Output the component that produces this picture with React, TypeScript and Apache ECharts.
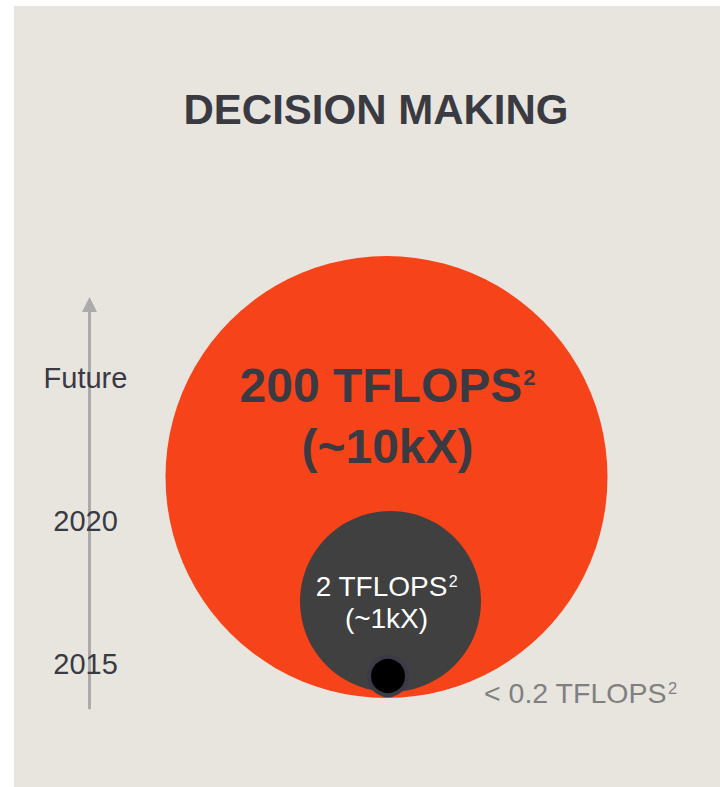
import React, { useEffect, useRef } from "react";
import * as echarts from "echarts";

// ---- data ----
const timelineTicks = [2015, 2020, 2025];
const timelineLabels = ["2015", "2020", "Future"];

const tierNames = ["200 TFLOPS", "2 TFLOPS", "< 0.2 TFLOPS"];
const tierTflops = [200, 2, 0.2];
const tierSpeedup = ["~10kX", "~1kX", ""];

const TEXT = "#3A3A42";
const FONT = "Liberation Sans, Arial, sans-serif";

// ---- styles per tier (sizes, offsets, colours) ----
const tierStyles = [
  {
    size: 442,
    offset: [0, -221],
    itemStyle: { color: "#F74319", opacity: 1 },
    label: {
      show: true,
      position: "inside",
      offset: [1, -61],
      rich: {
        m: { fontSize: 48, fontWeight: "bold", color: TEXT, lineHeight: 61, fontFamily: FONT },
        s: { fontSize: 22, fontWeight: "bold", color: TEXT, verticalAlign: "top", padding: [11, 0, 0, 1], fontFamily: FONT },
      },
    },
  },
  {
    size: 181,
    offset: [4, -96.5],
    itemStyle: { color: "#404040", opacity: 1 },
    label: {
      show: true,
      position: "inside",
      offset: [-4, 1],
      rich: {
        m: { fontSize: 28, color: "#FFFFFF", lineHeight: 32, fontFamily: FONT },
        s: { fontSize: 16, color: "#FFFFFF", verticalAlign: "top", padding: [3, 0, 0, 1], fontFamily: FONT },
      },
    },
  },
  {
    size: 38,
    offset: [1.5, -22],
    itemStyle: { color: "#000000", borderColor: "#3B3B47", borderWidth: 4, opacity: 1 },
    label: {
      show: true,
      position: "right",
      distance: 75,
      offset: [0, 16.5],
      rich: {
        m: { fontSize: 28.5, color: "#808080", lineHeight: 32, fontFamily: FONT },
        s: { fontSize: 16.5, color: "#808080", verticalAlign: "top", padding: [3, 0, 0, 1], fontFamily: FONT },
      },
    },
  },
];

export default function App() {
  const ref = useRef<HTMLDivElement>(null);

  useEffect(() => {
    if (!ref.current) return;
    const chart = echarts.init(ref.current, undefined, { renderer: "svg" });

    const data = tierNames.map((name, i) => {
      const st = tierStyles[i];
      const sp = tierSpeedup[i];
      return {
        name,
        value: [0, 0, tierTflops[i]],
        symbolSize: st.size,
        symbolOffset: st.offset,
        itemStyle: st.itemStyle,
        label: {
          ...st.label,
          formatter: `{m|${name}}{s|2}` + (sp ? `\n{m|(${sp})}` : ""),
        },
      };
    });

    chart.setOption({
      animation: false,
      textStyle: { fontFamily: FONT },
      title: {
        text: "DECISION MAKING",
        left: 183.5,
        top: 88,
        padding: 0,
        textStyle: { fontSize: 42, fontWeight: "bold", color: TEXT, fontFamily: FONT },
      },
      graphic: [
        {
          type: "rect",
          z: -100,
          silent: true,
          shape: { x: 14, y: 6, width: 720, height: 800 },
          style: { fill: "#E8E5DF" },
        },
      ],
      grid: [
        { left: 89.5, width: 1, top: 305.5, height: 402.5 },
        { left: 166, width: 441, top: 256, height: 442 },
      ],
      xAxis: [
        { gridIndex: 0, type: "value", show: false },
        { gridIndex: 1, type: "value", min: -1, max: 1, show: false },
      ],
      yAxis: [
        {
          gridIndex: 0,
          type: "value",
          min: 2013.462,
          max: 2027.535,
          position: "left",
          axisLine: {
            show: true,
            symbol: ["none", "triangle"],
            symbolSize: [15, 15],
            symbolOffset: [0, 1],
            lineStyle: { color: "#ABABAB", width: 3 },
          },
          axisTick: { show: false },
          splitLine: { show: false },
          axisLabel: {
            customValues: timelineTicks,
            align: "center",
            margin: 4,
            fontSize: 29,
            color: TEXT,
            fontFamily: FONT,
            formatter: (v: number) => {
              const idx = timelineTicks.indexOf(Math.round(v));
              return idx >= 0 ? timelineLabels[idx] : "";
            },
          },
        },
        { gridIndex: 1, type: "value", min: 0, max: 1, show: false },
      ],
      series: [
        {
          type: "scatter",
          xAxisIndex: 1,
          yAxisIndex: 1,
          symbol: "circle",
          itemStyle: { opacity: 1 },
          data,
          z: 3,
        },
      ],
    });

    return () => chart.dispose();
  }, []);

  return (
    <div
      ref={ref}
      style={{ position: "fixed", left: 0, top: 0, width: 720, height: 787, background: "#FFFFFF" }}
    />
  );
}
